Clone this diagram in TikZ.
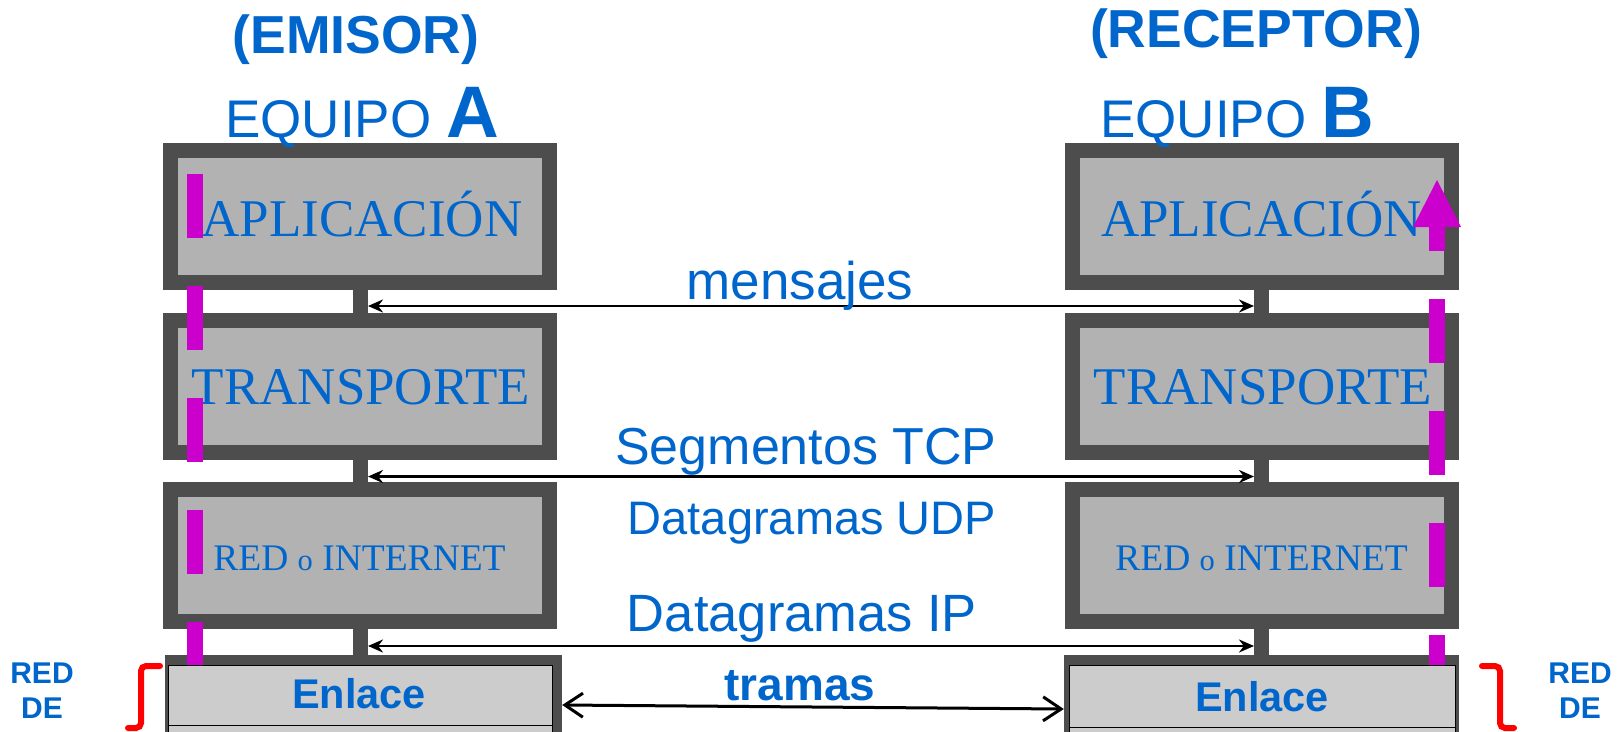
\documentclass[tikz,border=0pt]{standalone}
\usepackage{fontspec}
\setmainfont{Liberation Sans}
\newfontfamily\timesf{Liberation Serif}
\usetikzlibrary{arrows.meta,calc}
\definecolor{frameG}{HTML}{4D4D4D}
\definecolor{fillG}{HTML}{B2B2B2}
\definecolor{lightG}{HTML}{CCCCCC}
\definecolor{txtB}{HTML}{0066CC}
\definecolor{mag}{HTML}{CC00CC}
\definecolor{redB}{HTML}{FF0000}
\begin{document}
\begin{tikzpicture}[x=1pt,y=-1pt,
  layer/.style={rectangle, draw=frameG, fill=fillG, line width=15pt,
    minimum width=379pt, minimum height=132pt, inner sep=0pt},
  enback/.style={rectangle, fill=frameG, inner sep=0pt, minimum height=85pt},
  enfront/.style={rectangle, draw=black, fill=lightG, line width=1pt, inner sep=0pt},
  stub/.style={draw=frameG, line width=15pt},
  lbl/.style={text=txtB, inner sep=0pt, anchor=base},
  msg/.style={line width=2.5pt, {Stealth[length=15pt,width=13pt]}-{Stealth[length=15pt,width=13pt]}},
  frm/.style={line width=3pt, {Straight Barb[length=18pt,width=24pt]}-{Straight Barb[length=18pt,width=24pt]}},
  magl/.style={draw=mag, line width=16pt, dash pattern=on 64pt off 48pt},
  brk/.style={draw=redB, line width=6pt, rounded corners=5pt, line cap=round},
  boxtxt/.style={lbl, font=\timesf\fontsize{53}{53}\selectfont},
  midtxt/.style={lbl, font=\fontsize{52}{52}\selectfont}
]
\useasboundingbox (0,0) rectangle (1617,731);

% layer boxes
\node[layer] (apA) at (360,216.5) {};
\node[layer] (trA) at (360,386.5) {};
\node[layer] (reA) at (360,555.5) {};
\node[layer] (apB) at (1261.5,216.5) {};
\node[layer] (trB) at (1261.5,386.5) {};
\node[layer] (reB) at (1261.5,555.5) {};

% enlace boxes
\node[enback, minimum width=397pt] (enAb) at (363.5,697.5) {};
\node[enfront, minimum width=384pt, minimum height=60pt] (enA) at (360,695) {};
\node[enfront, minimum width=384pt, minimum height=20pt] (fiA) at (360,735) {};
\node[enback, minimum width=395pt] (enBb) at (1261.5,697.5) {};
\node[enfront, minimum width=386pt, minimum height=62pt] (enB) at (1262,696) {};
\node[enfront, minimum width=386pt, minimum height=20pt] (fiB) at (1262,737) {};

% stubs
\draw[stub] (apA.south) -- (trA.north);
\draw[stub] (trA.south) -- (reA.north);
\draw[stub] (reA.south) -- (enAb.north -| reA.south);
\draw[stub] (apB.south) -- (trB.north);
\draw[stub] (trB.south) -- (reB.north);
\draw[stub] (reB.south) -- (enBb.north -| reB.south);

% headings
\node[lbl, font=\bfseries\fontsize{53.5}{53.5}\selectfont] (emi) at (356,53) {(EMISOR)};
\node[lbl, font=\bfseries\fontsize{53.5}{53.5}\selectfont] (rec) at (1256,47) {(RECEPTOR)};
\node[lbl, font=\fontsize{53}{53}\selectfont] (eqA) at (362,137) {EQUIPO {\bfseries\fontsize{73}{73}\selectfont A}};
\node[lbl, font=\fontsize{53}{53}\selectfont] (eqB) at (1237,137) {EQUIPO {\bfseries\fontsize{73}{73}\selectfont B}};

% box texts
\node[boxtxt] at (362,236) {APLICACIÓN};
\node[boxtxt] at (1261.5,236) {APLICACIÓN};
\node[boxtxt] at (361,404) {TRANSPORTE};
\node[boxtxt] at (1263,404) {TRANSPORTE};
\node[lbl, font=\timesf\fontsize{37.5}{37.5}\selectfont] at (359.5,570) {RED {\fontsize{30.5}{30.5}\selectfont o} INTERNET};
\node[lbl, font=\timesf\fontsize{37.5}{37.5}\selectfont] at (1261.5,570) {RED {\fontsize{30.5}{30.5}\selectfont o} INTERNET};
\node[lbl, font=\bfseries\fontsize{41.5}{41.5}\selectfont] at (359,708) {Enlace};
\node[lbl, font=\bfseries\fontsize{41.5}{41.5}\selectfont] at (1262,711) {Enlace};

% connectors
\coordinate (m1) at (368,306);   \coordinate (m2) at (1254,306);
\coordinate (s1) at (368,476.5); \coordinate (s2) at (1254,476.5);
\coordinate (i1) at (368,646);   \coordinate (i2) at (1254,646);
\coordinate (t1) at (enAb.east |- 0,705); \coordinate (t2) at (enBb.west |- 0,709);
\draw[msg] (m1) -- (m2);
\draw[msg] (s1) -- (s2);
\draw[msg] (i1) -- (i2);
\draw[frm] (t1) -- (t2);

% connector labels
\node[midtxt, font=\fontsize{53}{53}\selectfont] at (800,299) {mensajes};
\node[midtxt] at (806,464) {Segmentos TCP};
\node[midtxt, font=\fontsize{47}{47}\selectfont] at (812,534) {Datagramas UDP};
\node[midtxt, font=\fontsize{52.5}{52.5}\selectfont] at (802,631) {Datagramas IP};
\node[lbl, font=\bfseries\fontsize{46}{46}\selectfont] at (800,700) {tramas};

% magenta data path
\draw[magl] (195,174) -- (195,665);
\draw[magl, dash phase=40pt] (1437,227) -- (1437,665);
\fill[mag] (1413,227) -- (1461,227) -- (1437,180) -- cycle;

% red brackets
\draw[brk] (160,666) -- (141,666) -- (141,728) -- (128,728);
\draw[brk] (1482,666) -- (1500,666) -- (1500,728) -- (1514,728);
\node[lbl, font=\bfseries\fontsize{30}{30}\selectfont] at (42,683) {RED};
\node[lbl, font=\bfseries\fontsize{30}{30}\selectfont] at (42,718) {DE};
\node[lbl, font=\bfseries\fontsize{30}{30}\selectfont] at (1580,683) {RED};
\node[lbl, font=\bfseries\fontsize{30}{30}\selectfont] at (1580,718) {DE};
\end{tikzpicture}
\end{document}
